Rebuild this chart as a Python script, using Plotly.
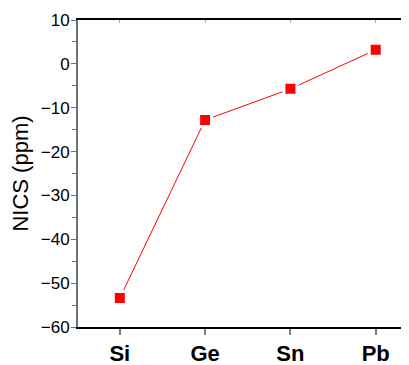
import plotly.graph_objects as go

elements = ["Si", "Ge", "Sn", "Pb"]
nics = [-53.4, -12.8, -5.7, 3.2]
y_ticks = [10, 0, -10, -20, -30, -40, -50, -60]

fig = go.Figure()
fig.add_trace(go.Scatter(
    x=list(range(len(elements))), y=nics, mode="lines+markers",
    line=dict(color="#ff0000", width=1),
    marker=dict(symbol="square", size=13, color="#ff0000",
                line=dict(color="white", width=3)),
    showlegend=False, cliponaxis=False,
))
# invisible trace for top axis
fig.add_trace(go.Scatter(x=[0], y=[0], xaxis="x2", mode="markers",
                         marker=dict(opacity=0), showlegend=False, hoverinfo="skip"))

fig.update_layout(
    width=401, height=357,
    margin=dict(l=70, r=0, t=12, b=38),
    plot_bgcolor="white", paper_bgcolor="white",
    font=dict(family="Liberation Sans, Arial", color="black"),
    xaxis=dict(
        range=[-0.49, 3.39], tickmode="array",
        tickvals=list(range(len(elements))), ticktext=elements,
        showgrid=False, zeroline=False, automargin=False,
        showline=True, linecolor="black", linewidth=2,
        ticks="outside", ticklen=6, tickwidth=2, tickcolor="#808080",
        ticklabelstandoff=0,
        tickfont=dict(size=22, family="Liberation Sans, Arial", weight="bold"),
    ),
    xaxis2=dict(
        overlaying="x", side="top", range=[-0.49, 3.39],
        tickmode="array", tickvals=list(range(len(elements))),
        showticklabels=False, showgrid=False, zeroline=False, automargin=False,
        showline=True, linecolor="black", linewidth=2,
        ticks="inside", ticklen=3, tickwidth=1, tickcolor="#aaaaaa",
    ),
    yaxis=dict(
        range=[-60, 10], tickmode="array", tickvals=y_ticks,
        showgrid=False, zeroline=False, automargin=False,
        showline=True, linecolor="#707070", linewidth=2,
        ticks="outside", ticklen=5, tickwidth=1, tickcolor="#707070",
        minor=dict(dtick=5, ticks="outside", ticklen=4, tickcolor="#707070", tickwidth=1),
        ticklabelstandoff=-2,
        tickfont=dict(size=17),
        title=dict(text="NICS (ppm)", font=dict(size=22), standoff=6),
    ),
)
fig.write_html("out.html")
